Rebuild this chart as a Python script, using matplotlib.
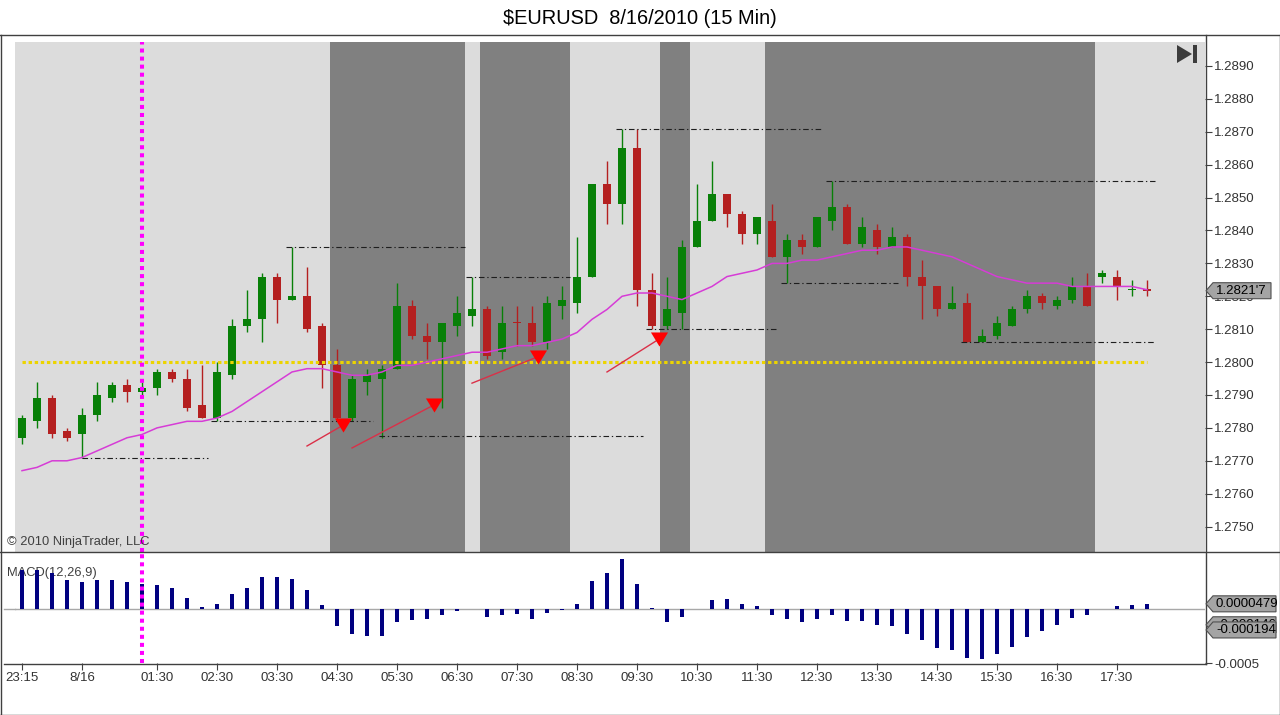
import numpy as np
import matplotlib
matplotlib.use("Agg")
import matplotlib.pyplot as plt
from matplotlib.patches import Polygon
from matplotlib.lines import Line2D
from matplotlib.transforms import IdentityTransform

plt.rcParams['font.family'] = ['Liberation Sans', 'DejaVu Sans']

# ---------------- data (15-min bars, 23:15 -> 18:00) ----------------
opens = [1.2777, 1.2782, 1.2789, 1.2779, 1.2778, 1.2784, 1.2789, 1.2793, 1.2791, 1.2792,
         1.2797, 1.2795, 1.2787, 1.2783, 1.2796, 1.2811, 1.2813, 1.2826, 1.2819, 1.2820,
         1.2811, 1.2799, 1.2783, 1.2794, 1.2795, 1.2798, 1.2817, 1.2808, 1.2806, 1.2811,
         1.2814, 1.2816, 1.2803, 1.28121, 1.2812, 1.2806, 1.2817, 1.2818, 1.2826, 1.2854,
         1.2848, 1.2865, 1.2822, 1.2811, 1.2815, 1.2835, 1.2843, 1.2851, 1.2845, 1.2839,
         1.2843, 1.2832, 1.2837, 1.2835, 1.2843, 1.2847, 1.2836, 1.2840, 1.2835, 1.2838,
         1.2826, 1.2823, 1.2816, 1.2818, 1.2806, 1.2808, 1.2811, 1.2816, 1.2820, 1.2817,
         1.2819, 1.2823, 1.2826, 1.2826, 1.28219, 1.28222]
highs = [1.2784, 1.2794, 1.2790, 1.2780, 1.2786, 1.2794, 1.2794, 1.2795, 1.2794, 1.2798,
         1.2798, 1.2798, 1.2799, 1.2800, 1.2813, 1.2822, 1.2827, 1.2827, 1.2835, 1.2829,
         1.2812, 1.2804, 1.2796, 1.2798, 1.2799, 1.2824, 1.2819, 1.2812, 1.2812, 1.2820,
         1.2826, 1.2817, 1.2817, 1.2817, 1.2817, 1.2820, 1.2823, 1.2838, 1.2854, 1.2861,
         1.2871, 1.2871, 1.2827, 1.2826, 1.2837, 1.2854, 1.2861, 1.2851, 1.2846, 1.2844,
         1.2848, 1.2839, 1.2839, 1.2844, 1.2855, 1.2848, 1.2844, 1.2842, 1.2841, 1.2839,
         1.2831, 1.2823, 1.2823, 1.2821, 1.2810, 1.2814, 1.2817, 1.2822, 1.2821, 1.2820,
         1.2826, 1.2827, 1.2828, 1.2828, 1.2825, 1.2825]
lows = [1.2775, 1.2780, 1.2777, 1.2776, 1.2771, 1.2782, 1.2788, 1.2788, 1.2790, 1.2790,
        1.2794, 1.2785, 1.2783, 1.2782, 1.2795, 1.2809, 1.2806, 1.2812, 1.2819, 1.2809,
        1.2792, 1.2782, 1.2782, 1.2790, 1.2777, 1.2798, 1.2807, 1.2801, 1.2786, 1.2808,
        1.2811, 1.2801, 1.2801, 1.2805, 1.2805, 1.2804, 1.2813, 1.2815, 1.2826, 1.2842,
        1.2842, 1.2817, 1.2810, 1.2810, 1.2810, 1.2835, 1.2843, 1.2841, 1.2836, 1.2836,
        1.2832, 1.2824, 1.2833, 1.2835, 1.2840, 1.2836, 1.2835, 1.2833, 1.2835, 1.2823,
        1.2813, 1.2814, 1.2816, 1.2806, 1.2806, 1.2807, 1.2811, 1.2815, 1.2816, 1.2816,
        1.2818, 1.2817, 1.2824, 1.2819, 1.2820, 1.2820]
closes = [1.2783, 1.2789, 1.2778, 1.2777, 1.2784, 1.2790, 1.2793, 1.2791, 1.2792, 1.2797,
          1.2795, 1.2786, 1.2783, 1.2797, 1.2811, 1.2813, 1.2826, 1.2819, 1.2820, 1.2810,
          1.2799, 1.2783, 1.2795, 1.2796, 1.2798, 1.2817, 1.2808, 1.2806, 1.2812, 1.2815,
          1.2816, 1.2802, 1.2812, 1.28119, 1.2806, 1.2818, 1.2819, 1.2826, 1.2854, 1.2848,
          1.2865, 1.2822, 1.2811, 1.2816, 1.2835, 1.2843, 1.2851, 1.2845, 1.2839, 1.2844,
          1.2832, 1.2837, 1.2835, 1.2844, 1.2847, 1.2836, 1.2841, 1.2835, 1.2838, 1.2826,
          1.2823, 1.2816, 1.2818, 1.2806, 1.2808, 1.2812, 1.2816, 1.2820, 1.2818, 1.2819,
          1.2823, 1.2817, 1.2827, 1.2823, 1.28221, 1.28217]
ma = [1.2767, 1.2768, 1.2770, 1.2770, 1.2771, 1.2773, 1.2775, 1.2777, 1.2778, 1.2780,
      1.2781, 1.2782, 1.2782, 1.2783, 1.2785, 1.2788, 1.2791, 1.2794, 1.2797, 1.2798,
      1.2798, 1.2797, 1.2796, 1.2796, 1.2797, 1.2799, 1.2799, 1.2800, 1.2801, 1.2802,
      1.2803, 1.2803, 1.2804, 1.2805, 1.2805, 1.2806, 1.2807, 1.2809, 1.2813, 1.2816,
      1.2820, 1.2821, 1.2821, 1.2820, 1.2819, 1.2821, 1.2823, 1.2826, 1.2827, 1.2828,
      1.2830, 1.2830, 1.2831, 1.2831, 1.2832, 1.2833, 1.2834, 1.2834, 1.2835, 1.2835,
      1.2834, 1.2833, 1.2832, 1.2830, 1.2828, 1.2826, 1.2825, 1.2824, 1.2824, 1.2824,
      1.2823, 1.2823, 1.2823, 1.2823, 1.2823, 1.2822]
macd_hist = [0.00036, 0.00036, 0.00033, 0.00027, 0.00025, 0.00027, 0.00027, 0.00025, 0.00023, 0.00022,
             0.00019, 0.00010, 0.00002, 0.00005, 0.00014, 0.00019, 0.00030, 0.00030, 0.00028, 0.00018,
             0.00004, -0.00016, -0.00023, -0.00025, -0.00025, -0.00012, -0.00010, -0.00009, -0.00006, -0.00002,
             0.0, -0.00007, -0.00006, -0.00005, -0.00009, -0.00004, -0.000005, 0.00005, 0.00026, 0.00033,
             0.00046, 0.00023, 0.00001, -0.00012, -0.00007, 0.0, 0.00008, 0.00009, 0.00005, 0.00003,
             -0.00006, -0.00009, -0.00012, -0.00009, -0.00006, -0.00011, -0.00011, -0.00015, -0.00016, -0.00023,
             -0.00029, -0.00036, -0.00038, -0.00045, -0.00046, -0.00042, -0.00035, -0.00026, -0.00020, -0.00015,
             -0.00008, -0.00006, 0.0, 0.00003, 0.00004, 0.0000479]

time_tick_bars = [0, 4, 9, 13, 17, 21, 25, 29, 33, 37, 41, 45, 49, 53, 57, 61, 65, 69, 73]
time_tick_labels = ['23:15', '8/16', '01:30', '02:30', '03:30', '04:30', '05:30', '06:30', '07:30',
                    '08:30', '09:30', '10:30', '11:30', '12:30', '13:30', '14:30', '15:30', '16:30', '17:30']
price_ticks = [1.2750, 1.2760, 1.2770, 1.2780, 1.2790, 1.2800, 1.2810, 1.2820,
               1.2830, 1.2840, 1.2850, 1.2860, 1.2870, 1.2880, 1.2890]
price_tick_labels = ['1.2750', '1.2760', '1.2770', '1.2780', '1.2790', '1.2800', '1.2810', '1.2820',
                     '1.2830', '1.2840', '1.2850', '1.2860', '1.2870', '1.2880', '1.2890']
macd_ticks = [-0.0005]
macd_tick_labels = ['-0.0005']

session_start = [21, 31, 43, 50]
session_end = [29, 36, 44, 71]

swing_level = [1.2771, 1.2782, 1.2835, 1.27775, 1.2826, 1.2871, 1.2810, 1.2855, 1.2824, 1.2806]
swing_from = [4.0, 12.6, 17.6, 23.8, 29.6, 39.6, 41.6, 53.6, 50.6, 62.6]
swing_to = [12.4, 23.4, 29.5, 41.4, 36.5, 53.4, 50.4, 75.5, 58.4, 75.5]

arrow_x0 = [19.0, 22.0, 30.0, 39.0]
arrow_y0 = [1.27745, 1.27739, 1.27936, 1.27970]
arrow_x1 = [21.43, 27.47, 34.43, 42.47]
arrow_y1 = [1.27809, 1.27870, 1.28017, 1.28070]

marker_bar = 8
pivot_level = 1.2800
pivot_from, pivot_to = 0, 75

last_price = 1.28217
last_price_text = "1.2821'7"
macd_diff = 0.0000479
macd_line = -0.000146
macd_avg = -0.000194

title = "$EURUSD  8/16/2010 (15 Min)"

# ---------------- figure ----------------
W, H = 1280, 715
fig = plt.figure(figsize=(W / 100, H / 100), dpi=100, facecolor='white')


def rect_px(x0, y0, x1, y1):
    return [x0 / W, 1 - y1 / H, (x1 - x0) / W, (y1 - y0) / H]


PX_PER_PRICE = 32900.0
ax = fig.add_axes(rect_px(15, 42, 1205, 551.5))
mx = fig.add_axes(rect_px(15, 552.5, 1205, 663))

x = np.arange(len(opens))
o = np.array(opens); c = np.array(closes); h = np.array(highs); l = np.array(lows)

GREEN = '#088008'
RED = '#B42020'
cols = [GREEN if cc > oo else RED for oo, cc in zip(o, c)]

ax.set_facecolor('#DCDCDC')
for s0, s1 in zip(session_start, session_end):
    ax.axvspan(s0 - 0.5, s1 + 0.5, color='#808080', lw=0, zorder=0.5)

ax.vlines(x, l, h, colors=cols, lw=1.0, zorder=3)
body_bot = np.minimum(o, c)
body_h = np.maximum(np.abs(c - o), 0.000032)
ax.bar(x, body_h, bottom=body_bot, width=0.47, color=cols, lw=0, zorder=4)

ax.hlines(swing_level, swing_from, swing_to, colors='#1E1E1E', lw=0.8,
          linestyles=[(0, (5, 2.5, 1.2, 2.5))], zorder=5)

ax.hlines(pivot_level, pivot_from, pivot_to, colors='#ECD400', lw=2.2,
          linestyles=[(0, (1.1, 0.9))], zorder=6)

ax.plot(x, ma, color='#D63CD6', lw=1.1, zorder=6)

for xa, ya, xb, yb in zip(arrow_x0, arrow_y0, arrow_x1, arrow_y1):
    ax.plot([xa, xb], [ya, yb], color='#DA3048', lw=1.0, zorder=7)
    ax.plot([xb], [yb], marker=[(-8.5, 7), (8.5, 7), (0, -7)], markersize=12.3,
            color='#FF0000', markeredgewidth=0, zorder=8)

ax.axvline(marker_bar, color='#FF00FF', lw=2.9, linestyle=(0, (1, 1)), zorder=9)

xmin = -7 / 15.0
xmax = (1205 - 22) / 15.0
ax.set_xlim(xmin, xmax)
ax.set_ylim(1.2890 - (551.5 - 66) / PX_PER_PRICE, 1.2890 + (66 - 42) / PX_PER_PRICE)
for sp in ax.spines.values():
    sp.set_visible(False)
ax.yaxis.tick_right()
ax.set_yticks(price_ticks)
ax.set_yticklabels(price_tick_labels)
ax.tick_params(axis='y', direction='out', length=5, width=0.8, color='#404040',
               pad=1.5, labelsize=9.5, labelcolor='#333333')
ax.set_xticks([])

# MACD panel
mx.set_facecolor('white')
mx.axhline(0, color='#A8A8A8', lw=1.0, zorder=1)
mx.bar(x, macd_hist, width=0.28, color='#000080', lw=0, zorder=3)
mx.axvline(marker_bar, color='#FF00FF', lw=2.9, linestyle=(0, (1, 1)), zorder=9)
mx.set_xlim(xmin, xmax)
mx.set_ylim(-0.0005, (609 - 552.5) / 54.0 * 0.0005)
for sp in mx.spines.values():
    sp.set_visible(False)
mx.yaxis.tick_right()
mx.set_yticks(macd_ticks)
mx.set_yticklabels(macd_tick_labels)
mx.tick_params(axis='y', direction='out', length=5, width=0.8, color='#404040',
               pad=1.5, labelsize=9.5, labelcolor='#333333')
mx.set_xticks(time_tick_bars)
mx.set_xticklabels(time_tick_labels)
mx.tick_params(axis='x', direction='out', length=5, width=0.8, color='#404040',
               pad=1.2, labelsize=9.5, labelcolor='#333333')

mx.text(7 / W, 1 - 576 / H, 'MACD(12,26,9)', transform=fig.transFigure, fontsize=9.3,
        color='#404040', va='baseline', ha='left', zorder=2)
ax.text(7 / W, 1 - 545 / H, '\u00a9 2010 NinjaTrader, LLC', transform=fig.transFigure,
        fontsize=9.3, color='#404040', va='baseline', ha='left', zorder=10)

fig.text(0.5, 1 - 24.5 / H, title, ha='center', va='baseline', fontsize=14.4, color='black')


# ---------------- frame lines & decorations (pixel coords) ----------------
def fline(x0, y0, x1, y1, **kw):
    fig.add_artist(Line2D([x0, x1], [H - y0, H - y1], transform=IdentityTransform(), **kw))


FRAME = '#404040'
fline(0, 34.5, W, 34.5, color=FRAME, lw=1)
fline(0.5, 34.5, 0.5, H, color=FRAME, lw=1)
fline(W - 0.5, 34.5, W - 0.5, H, color=FRAME, lw=1)
fline(0, H - 0.5, W, H - 0.5, color=FRAME, lw=1)
fline(0, 552, W, 552, color=FRAME, lw=1)
fline(1205.5, 34.5, 1205.5, 663.5, color=FRAME, lw=1)
fline(4, 663.5, 1205.5, 663.5, color=FRAME, lw=1)
fline(4, 609, 15, 609, color='#A8A8A8', lw=1)

# "scroll to end" icon
fig.add_artist(Polygon([(1177, H - 45), (1177, H - 63), (1192, H - 54)], closed=True,
                       transform=IdentityTransform(), fc='#3C3C3C', ec='none'))
fig.add_artist(Polygon([(1193, H - 45), (1197, H - 45), (1197, H - 63), (1193, H - 63)], closed=True,
                       transform=IdentityTransform(), fc='#3C3C3C', ec='none'))


def value_tag(axis, value, text, x0=1206, x1=1276, hh=16, z=10):
    yd = axis.transData.transform((0, value))[1]
    pts = [(x0, yd), (x0 + 7, yd + hh / 2), (x1, yd + hh / 2), (x1, yd - hh / 2), (x0 + 7, yd - hh / 2)]
    fig.add_artist(Polygon(pts, closed=True, transform=IdentityTransform(), fc='#A4A4A4',
                           ec='#505050', lw=0.8, zorder=z))
    t = fig.text((x0 + 10) / W, yd / H, text, ha='left', va='center', fontsize=9.5,
                 color='black', zorder=z + 0.5)


value_tag(ax, last_price, last_price_text, x1=1271)
value_tag(mx, macd_line, '-0.000146', z=10)
value_tag(mx, macd_avg, '-0.000194', z=12)
value_tag(mx, macd_diff, '0.0000479', z=14)

fig.savefig('out.png', dpi=100, facecolor='white')
